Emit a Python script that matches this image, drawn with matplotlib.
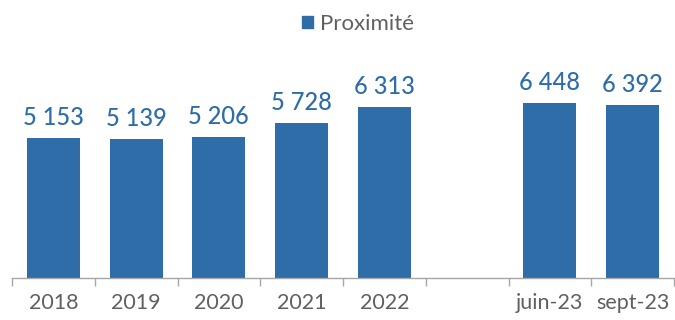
import matplotlib.pyplot as plt
from matplotlib.patches import Patch

categories = ["2018", "2019", "2020", "2021", "2022", "", "juin-23", "sept-23"]
values = [5153, 5139, 5206, 5728, 6313, None, 6448, 6392]

bar_color = "#2e6da8"
plt.rcParams['font.family'] = ['Lato', 'DejaVu Sans']

fig = plt.figure(figsize=(6.75, 3.2), dpi=100)
ax = fig.add_axes([12 / 675, 42 / 320, 662 / 675, 217 / 320])

xs = [i for i, v in enumerate(values) if v is not None]
vs = [v for v in values if v is not None]
bars = ax.bar(xs, vs, width=0.64, color=bar_color)

for x, v in zip(xs, vs):
    ax.text(x, v + 330, f"{v:,}".replace(",", " "), ha="center", va="bottom",
            fontsize=17, color=bar_color, fontweight="medium")

ax.set_xlim(-0.5, len(categories) - 0.5)
ax.set_ylim(0, 8000)
ax.set_xticks(range(len(categories)))
ax.set_xticklabels(categories, fontsize=15.5, color="#606060")
ax.set_xticks([i - 0.5 for i in range(len(categories) + 1)], minor=True)
ax.tick_params(axis="x", which="major", length=0, pad=11)
ax.tick_params(axis="x", which="minor", length=6, color="#a6a6a6", width=1)
ax.set_yticks([])
for s in ["top", "right", "left"]:
    ax.spines[s].set_visible(False)
ax.spines["bottom"].set_color("#a6a6a6")
ax.spines["bottom"].set_linewidth(1)

fig.legend(handles=[Patch(color=bar_color, label="Proximité")], loc="center",
           bbox_to_anchor=(0.53, 1 - 24 / 320), frameon=False, fontsize=16,
           handlelength=0.5, handleheight=0.5, handletextpad=0.3,
           labelcolor="#606060")

fig.savefig("out.png", dpi=100)
